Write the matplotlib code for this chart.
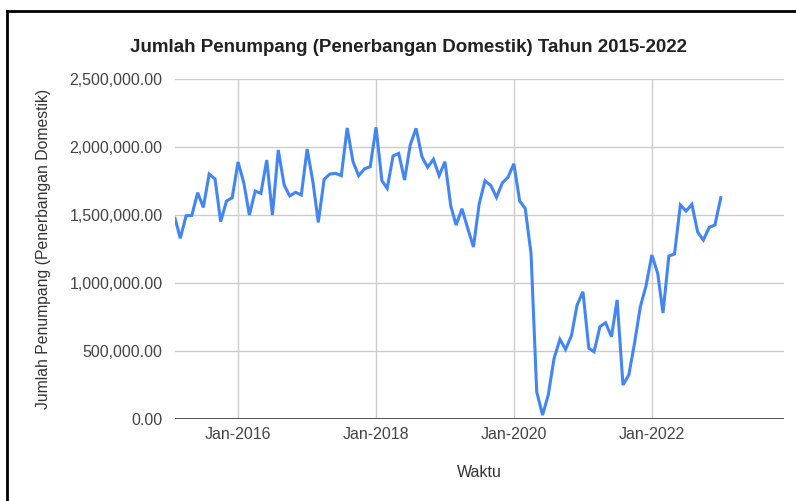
import matplotlib
matplotlib.use("Agg")
import matplotlib.pyplot as plt
import matplotlib.dates as mdates
from matplotlib.ticker import FuncFormatter
from matplotlib.lines import Line2D
import pandas as pd

# monthly domestic passengers, Jan 2015 - Dec 2022 (month-end dates)
months = pd.date_range("2015-01-31", "2022-12-31", freq="ME")
passengers = [
    1476000, 1329000, 1495000, 1497000, 1664000, 1556000, 1801000, 1765000, 1451000, 1603000, 1627000, 1890000,
    1733000, 1500000, 1676000, 1659000, 1904000, 1500000, 1978000, 1721000, 1640000, 1667000, 1647000, 1985000,
    1740000, 1446000, 1762000, 1801000, 1806000, 1789000, 2140000, 1892000, 1789000, 1840000, 1855000, 2145000,
    1752000, 1696000, 1934000, 1953000, 1757000, 2015000, 2137000, 1929000, 1851000, 1910000, 1789000, 1892000,
    1566000, 1426000, 1546000, 1405000, 1265000, 1580000, 1752000, 1717000, 1630000, 1736000, 1778000, 1877000,
    1602000, 1549000, 1218000, 201000, 29000, 176000, 446000, 586000, 512000, 613000, 838000, 936000,
    520000, 495000, 679000, 708000, 605000, 875000, 250000, 324000, 556000, 826000, 978000, 1206000,
    1071000, 780000, 1199000, 1213000, 1574000, 1529000, 1578000, 1373000, 1316000, 1409000, 1426000, 1627000,
]
y_ticks = [0, 500000, 1000000, 1500000, 2000000, 2500000]

fig = plt.figure(figsize=(7.96, 5.01), dpi=100)
ax = fig.add_axes([175 / 796, 1 - 419 / 501, (784 - 175) / 796, 340 / 501])

ax.plot(months, passengers, color="#4285F4", linewidth=2.2, solid_joinstyle="miter", zorder=3)

ax.set_xlim(pd.Timestamp("2015-01-31"), pd.Timestamp("2023-12-01"))
ax.set_ylim(0, 2500000)
ax.set_yticks(y_ticks)
ax.yaxis.set_major_formatter(FuncFormatter(lambda v, p: f"{v:,.2f}"))
ax.xaxis.set_major_locator(mdates.YearLocator(2, month=1, day=1))
ax.xaxis.set_major_formatter(mdates.DateFormatter("Jan-%Y"))

ax.grid(True, color="#cccccc", linewidth=1)
ax.set_axisbelow(True)
ax.axhline(0, color="#333333", linewidth=1.2, zorder=2)
for s in ax.spines.values():
    s.set_visible(False)
ax.tick_params(length=0, labelsize=11.5, labelcolor="#444444")
ax.tick_params(axis="y", pad=9)
ax.tick_params(axis="x", pad=6)
for lab in ax.get_xticklabels() + ax.get_yticklabels():
    lab.set_family("Liberation Sans")

fig.text(408 / 796, 1 - 47 / 501, "Jumlah Penumpang (Penerbangan Domestik) Tahun 2015-2022",
         ha="center", va="center", fontsize=13.5, fontweight="bold", family="Liberation Sans", color="#222222")
ax.set_xlabel("Waktu", fontsize=11.5, family="Liberation Sans", color="#333333", labelpad=16)
ax.set_ylabel("Jumlah Penumpang (Penerbangan Domestik)", fontsize=11.3, family="Liberation Sans",
              color="#333333", labelpad=13)

# outer frame (top and left visible in the reference)
fig.add_artist(Line2D([7 / 796, 7 / 796], [0, 1 - 11 / 501], transform=fig.transFigure, color="black", linewidth=2))
fig.add_artist(Line2D([7 / 796, 1], [1 - 11 / 501, 1 - 11 / 501], transform=fig.transFigure, color="black", linewidth=2))

fig.savefig("out.png", dpi=100)
